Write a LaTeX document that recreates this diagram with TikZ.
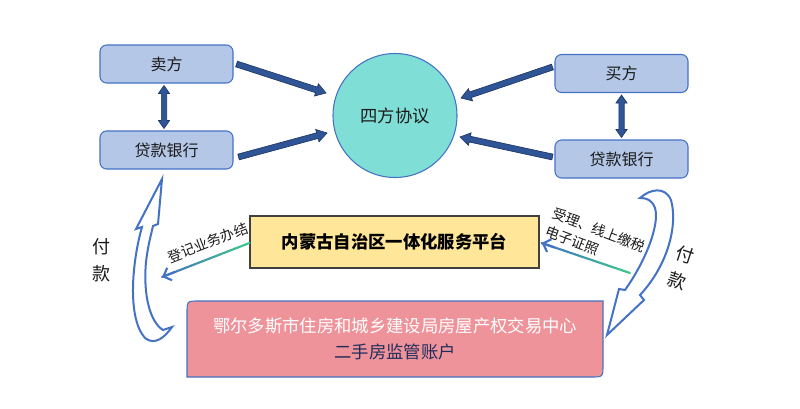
\documentclass[tikz,border=0pt]{standalone}
\usepackage{fontspec}
\setmainfont{Noto Sans CJK SC}
\usetikzlibrary{calc,arrows.meta}
\definecolor{bdr}{HTML}{4472C4}
\definecolor{boxfill}{HTML}{B4C7E7}
\definecolor{txt}{HTML}{1A1A1A}
\definecolor{arrfill}{HTML}{2F5597}
\definecolor{arrdraw}{HTML}{1F3864}
\definecolor{tealc}{HTML}{7FDED6}
\definecolor{yfill}{HTML}{FFE699}
\definecolor{ybdr}{HTML}{404040}
\definecolor{pfill}{HTML}{EF939B}
\definecolor{navy}{HTML}{1F2D5C}
\definecolor{gblue}{HTML}{4472C4}
\definecolor{ggreen}{HTML}{3CC88C}
\definecolor{curvec}{HTML}{4472C4}
\newcommand{\blkarrow}[2]{%
  \coordinate (bh) at ($(#2)!7.5pt!(#1)$);
  \draw[blockarrow] ($(#1)!2.2pt!90:(#2)$) -- ($(bh)!2.2pt!90:(#2)$) -- ($(bh)!4.8pt!90:(#2)$) -- (#2)
    -- ($(bh)!4.8pt!-90:(#2)$) -- ($(bh)!2.2pt!-90:(#2)$) -- ($(#1)!2.2pt!-90:(#2)$) -- cycle;}
\newcommand{\dblarrow}[2]{%
  \coordinate (ha) at ($(#1)!6pt!(#2)$);
  \coordinate (hb) at ($(#2)!6pt!(#1)$);
  \draw[blockarrow] (#1) -- ($(ha)!4.2pt!90:(#2)$) -- ($(ha)!2pt!90:(#2)$) -- ($(hb)!2pt!-90:(#1)$)
    -- ($(hb)!4.2pt!-90:(#1)$) -- (#2) -- ($(hb)!4.2pt!90:(#1)$) -- ($(hb)!2pt!90:(#1)$)
    -- ($(ha)!2pt!-90:(#2)$) -- ($(ha)!4.2pt!-90:(#2)$) -- cycle;}
\newcommand{\gradline}[2]{%
  \foreach \i in {0,...,23}{%
    \pgfmathsetmacro\cc{100*\i/23}
    \draw[line width=1.6pt, line cap=round, color=gblue!\cc!ggreen] ($(#1)!\i/24!(#2)$) -- ($(#1)!\i/24+1/24!(#2)$);}
  \draw[gblue, line width=1.6pt, -{Straight Barb[length=5pt,width=10pt]}] ($(#1)!0.85!(#2)$) -- (#2);}
\begin{document}
\begin{tikzpicture}[x=0.75pt,y=-0.75pt,
  bbox/.style={draw=bdr, fill=boxfill, rounded corners=5pt, line width=0.8pt,
    minimum width=99.75pt, minimum height=28.5pt, font=\fontsize{12}{14}\selectfont, text=txt},
  blockarrow/.style={fill=arrfill, draw=arrdraw, line width=0.5pt, line join=miter},
  curvearrow/.style={draw=curvec, line width=1.5pt, fill=white, line join=miter},
  glabel/.style={font=\fontsize{10.5}{14}\selectfont, text=txt, inner sep=0pt},
  fklabel/.style={font=\fontsize{13.5}{20}\selectfont, text=txt, align=center, inner sep=0pt}]
\useasboundingbox[fill=white] (0,0) rectangle (800,408);

% boxes
\node[bbox] (mai) at (166.5,64) {卖方};
\node[bbox] (dkL) at (166.5,150) {贷款银行};
\node[bbox] (buy) at (621.5,73.5) {买方};
\node[bbox] (dkR) at (621.5,159) {贷款银行};
\node[circle, draw=bdr, fill=tealc, line width=0.8pt, minimum size=93pt, inner sep=0pt,
  font=\fontsize{13}{15}\selectfont, text=txt] (sf) at (395,115.5) {四方协议};
\node[draw=ybdr, fill=yfill, line width=0.8pt, minimum width=216.75pt, minimum height=39pt,
  font=\bfseries\fontsize{13}{15}\selectfont, text=black] (pt) at (394.5,242) {内蒙古自治区一体化服务平台};

% pink box
\coordinate (pnw) at (187,301);
\coordinate (pse) at (603,377);
\draw[fill=pfill, draw=bdr, line width=0.8pt]
  (pnw |- pse) -- (187,313) .. controls (187,301) .. (199,301) -- (pse |- pnw)
  -- (603,365) .. controls (603,377) .. (591,377) -- cycle;
\node[font=\fontsize{13}{20}\selectfont, align=center, inner sep=0pt] (jy) at (395,339)
  {\textcolor{white}{鄂尔多斯市住房和城乡建设局房屋产权交易中心}\\\textcolor{navy}{二手房监管账户}};

% block arrows
\coordinate (a1s) at ($(mai.east)+(3,0)$);
\coordinate (a1e) at ($(sf.center)+(-69,-22.5)$);
\coordinate (a2s) at ($(dkL.east)+(5,7)$);
\coordinate (a2e) at ($(sf.center)+(-68,17.5)$);
\coordinate (a3s) at ($(buy.west)+(-2,-6.5)$);
\coordinate (a3e) at ($(sf.center)+(66,-17.5)$);
\coordinate (a4s) at ($(dkR.west)+(-2,-2)$);
\coordinate (a4e) at ($(sf.center)+(65,21.5)$);
\blkarrow{a1s}{a1e}
\blkarrow{a2s}{a2e}
\blkarrow{a3s}{a3e}
\blkarrow{a4s}{a4e}
\coordinate (v1a) at ($(mai.south)+(-2.5,2)$);
\coordinate (v1b) at ($(dkL.north)+(-2.5,-2)$);
\coordinate (v2a) at ($(buy.south)+(0,2)$);
\coordinate (v2b) at ($(dkR.north)+(0,-2)$);
\dblarrow{v1a}{v1b}
\dblarrow{v2a}{v2b}

% gradient arrows
\coordinate (g1s) at ($(pt.west)+(0,1)$);
\coordinate (g1e) at (162,277);
\coordinate (g2s) at (630,273);
\coordinate (g2e) at ($(pt.east)+(2,1)$);
\gradline{g1s}{g1e}
\gradline{g2s}{g2e}
\node[glabel, rotate=21] (lb1) at (208,243) {登记业务办结};
\node[glabel, rotate=-21, align=left] (lb2) at (595.5,239) {受理、线上缴税\\电子证照};

% curved arrows
\draw[curvearrow] (162,179) -- (136,229) -- (142,227)
  .. controls (132,262) and (127,318) .. (145,338)
  .. controls (155,346) and (165,337) .. (172,327)
  -- (163,330)
  .. controls (150,322) and (143,295) .. (146,262)
  .. controls (148,245) and (151,235) .. (153,226)
  -- (158,224) -- cycle;
\draw[curvearrow] (640,198)
  .. controls (650,189) and (665,186) .. (671,200)
  .. controls (678,225) and (668,265) .. (640,295)
  -- (644,300) -- (607,335) -- (619,289) -- (625,290)
  .. controls (645,262) and (660,225) .. (655,208)
  .. controls (652,200) and (647,198) .. cycle;
\node[fklabel] (fk1) at (101,260) {付\\款};
\node[fklabel, rotate=-18] (fk2) at (681.5,268) {付\\款};
\end{tikzpicture}
\end{document}
